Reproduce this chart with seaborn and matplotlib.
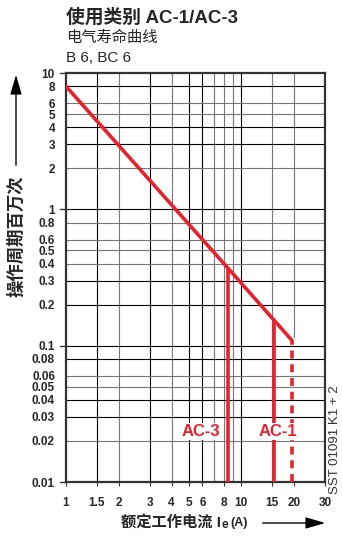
import numpy as np
import pandas as pd
import matplotlib.pyplot as plt
import seaborn as sns

# dữ liệu
curve_current = [1.0, 8.4, 15.3, 19.5]
curve_cycles = [8.0, 0.37, 0.155, 0.109]
ac3_current = 8.4
ac1_current = 15.3
ac1_max_current = 19.5

x_ticks = [1, 1.5, 2, 3, 4, 5, 6, 8, 10, 15, 20, 30]
x_tick_labels = ["1", "1.5", "2", "3", "4", "5", "6", "8", "10", "15", "20", "30"]
x_grid_black = [1.5, 3, 5, 6, 10]
x_grid_gray = [2, 4, 7, 8, 9, 15]
y_ticks = [10, 8, 6, 5, 4, 3, 2, 1, 0.8, 0.6, 0.5, 0.4, 0.3, 0.2,
           0.1, 0.08, 0.06, 0.05, 0.04, 0.03, 0.02, 0.01]
y_tick_labels = ["10", "8", "6", "5", "4", "3", "2", "1", "0.8", "0.6", "0.5", "0.4", "0.3", "0.2",
                 "0.1", "0.08", "0.06", "0.05", "0.04", "0.03", "0.02", "0.01"]
y_grid_black = [8, 4, 3, 1, 0.3, 0.2, 0.1, 0.08, 0.04, 0.03]
y_grid_gray = [6, 5, 2, 0.8, 0.6, 0.5, 0.4, 0.06, 0.05, 0.02]

RED = "#e8222c"

sns.set_style("white")
plt.rcParams["font.family"] = ["Liberation Sans", "Noto Sans CJK SC", "DejaVu Sans"]

fig = plt.figure(figsize=(3.42, 5.36), dpi=100)
ax = fig.add_axes([0.193, 0.1007, 0.757, 0.763])
ax.set_xscale("log")
ax.set_yscale("log")
ax.set_xlim(1, 30)
ax.set_ylim(0.01, 10)

# lưới
for v in x_grid_black:
    ax.axvline(v, color="black", lw=0.8, zorder=1)
for v in x_grid_gray:
    ax.axvline(v, color="#777777", lw=0.8, zorder=1)
ax.axvline(20, ymin=(np.log10(0.115) + 2) / 3, ymax=1, color="#777777", lw=0.8, zorder=1)
for v in y_grid_black:
    ax.axhline(v, color="black", lw=0.8, zorder=1)
for v in y_grid_gray:
    ax.axhline(v, color="#777777", lw=0.8, zorder=1)

# đường cong
df = pd.DataFrame({"Ie": curve_current, "cycles": curve_cycles})
sns.lineplot(data=df, x="Ie", y="cycles", color=RED, lw=2.6, ax=ax, zorder=3)
ax.set_xlabel("")
ax.set_ylabel("")
ax.plot([ac3_current, ac3_current], [0.01, curve_cycles[1]], color=RED, lw=2.6, zorder=3,
        solid_capstyle="butt")
ax.plot([ac1_current, ac1_current], [0.01, curve_cycles[2]], color=RED, lw=2.6, zorder=3,
        solid_capstyle="butt")
ax.plot([ac1_max_current, ac1_max_current], [0.01, curve_cycles[3]], color=RED, lw=2.6,
        ls=(0, (2.2, 1.6)), zorder=3)

bbox = dict(facecolor="white", edgecolor="none", pad=1.0)
ax.text(5.85, 0.0235, "AC-3", color=RED, fontsize=12, fontweight="bold", ha="center",
        va="center", bbox=bbox, zorder=4)
ax.text(16.2, 0.0235, "AC-1", color=RED, fontsize=12, fontweight="bold", ha="center",
        va="center", bbox=bbox, zorder=4)

# trục
for s in ax.spines.values():
    s.set_color("#333333")
    s.set_linewidth(1.6)
ax.set_xticks(x_ticks)
ax.set_xticklabels(x_tick_labels, fontsize=8.5, fontweight="bold")
ax.set_xticks([], minor=True)
ax.set_yticks(y_ticks)
ax.set_yticklabels(y_tick_labels, fontsize=8.5, fontweight="bold")
ax.set_yticks([], minor=True)
ax.tick_params(axis="x", length=3, pad=8, color="#333333", bottom=True)
ax.tick_params(axis="y", length=0, pad=8, left=True)
for v in [10, 1, 0.1, 0.01]:
    ax.plot([-0.025, 0], [v, v], transform=ax.get_yaxis_transform(), color="#333333",
            lw=1.0, clip_on=False)

# tiêu đề
fig.text(66 / 342, 1 - 17 / 536, "使用类别 AC-1/AC-3", fontsize=13.5, fontweight="bold",
         va="center", ha="left")
fig.text(66 / 342, 1 - 38 / 536, "电气寿命曲线", fontsize=11, va="center", ha="left")
fig.text(66 / 342, 1 - 58 / 536, "B 6, BC 6", fontsize=11, va="center", ha="left")

# nhãn trục
fig.text(16 / 342, 1 - 236 / 536, "操作周期百万次", rotation=90, fontsize=12.5,
         fontweight="bold", ha="center", va="center")
fig.text(221 / 342, 1 - 522 / 536, "额定工作电流 I", fontsize=11,
         fontweight="bold", ha="right", va="center")
fig.text(222 / 342, 1 - 525 / 536, "e", fontsize=8.5, fontweight="bold", ha="left", va="center")
fig.text(230 / 342, 1 - 523 / 536, "(A)", fontsize=9, fontweight="bold", ha="left", va="center")
fig.add_artist(plt.Annotation("", xy=(16 / 342, 1 - 72 / 536), xytext=(16 / 342, 1 - 168 / 536),
                              xycoords="figure fraction",
                              arrowprops=dict(arrowstyle="-|>,head_length=1.2,head_width=0.35",
                                              color="black", lw=1.0)))
fig.add_artist(plt.Annotation("", xy=(328 / 342, 1 - 523 / 536), xytext=(260 / 342, 1 - 523 / 536),
                              xycoords="figure fraction",
                              arrowprops=dict(arrowstyle="-|>,head_length=1.2,head_width=0.35",
                                              color="black", lw=1.0)))

fig.text(335 / 342, 1 - 440 / 536, "SST 01091 K1 + 2", rotation=90, fontsize=9.5,
         color="#333333", ha="center", va="center")

fig.savefig("out.png", dpi=100)
